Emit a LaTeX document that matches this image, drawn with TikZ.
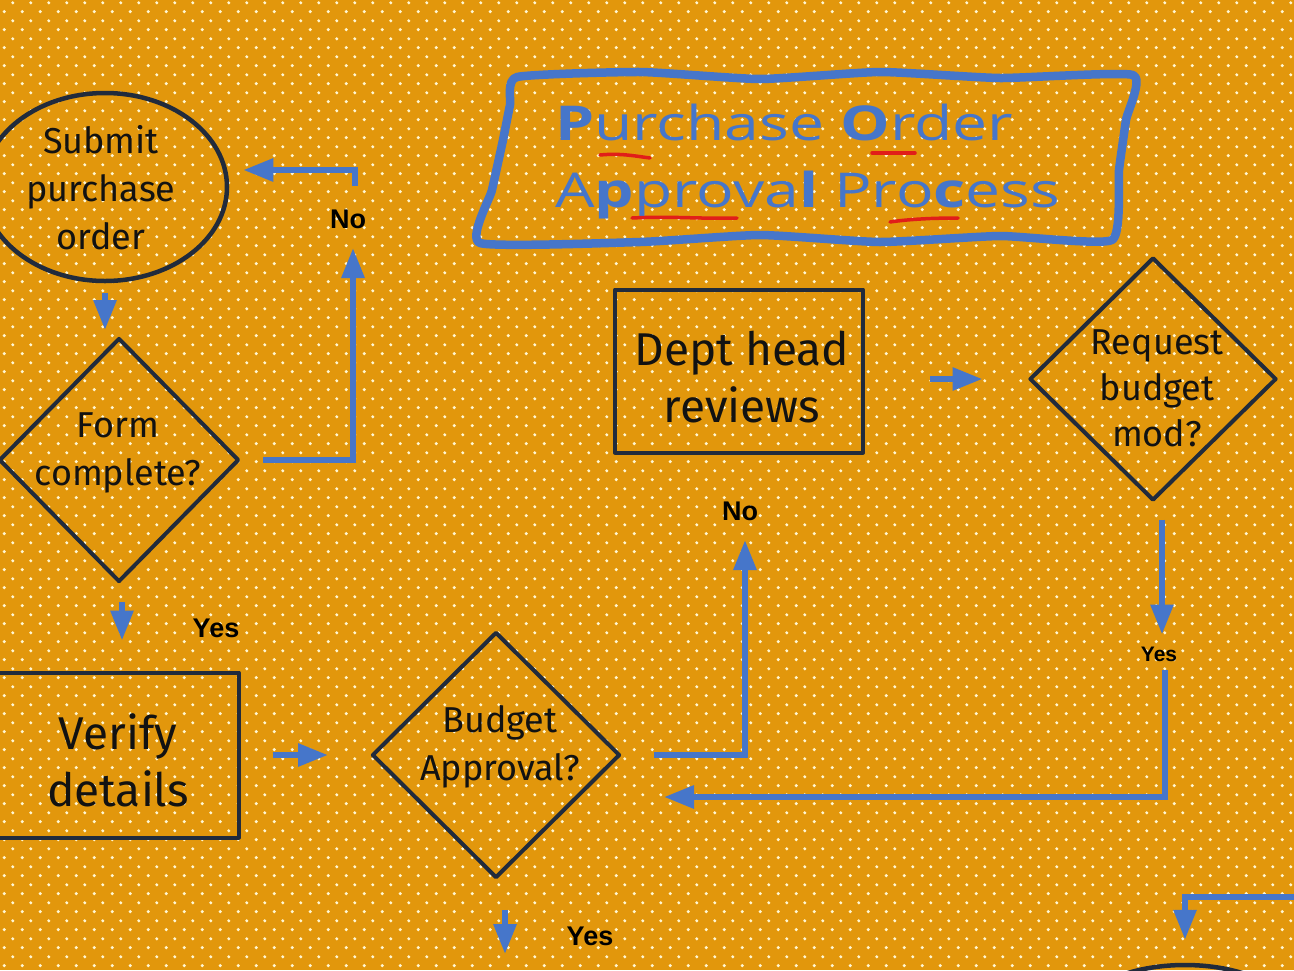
\documentclass[tikz,border=0pt]{standalone}
\usepackage{fontspec}
\setmainfont{Fira Sans}
\newfontfamily\titlefont[FakeStretch=1.3]{Open Sans}
\newfontfamily\labfont{Liberation Sans}
\usetikzlibrary{shapes.geometric,arrows.meta,patterns,calc}
\definecolor{bgor}{RGB}{226,151,12}
\definecolor{dotc}{RGB}{255,246,210}
\definecolor{ink}{RGB}{33,43,60}
\definecolor{txt}{RGB}{18,18,18}
\definecolor{flow}{RGB}{70,118,202}
\definecolor{uline}{RGB}{225,30,25}
\pgfdeclarepatternformonly{podots}{\pgfqpoint{0pt}{0pt}}{\pgfqpoint{17.5pt}{17.8pt}}{\pgfqpoint{17.5pt}{17.8pt}}{%
  \pgfpathcircle{\pgfqpoint{4.4pt}{4.45pt}}{1.75pt}%
  \pgfpathcircle{\pgfqpoint{13.15pt}{13.35pt}}{1.75pt}%
  \pgfusepath{fill}}
\begin{document}
\begin{tikzpicture}[x=1pt,y=-1pt,
  shapeline/.style={draw=ink, line width=4pt, line join=round},
  boxnode/.style={shapeline, rectangle, inner sep=0pt},
  dia/.style={shapeline, diamond, inner sep=0pt},
  midtxt/.style={font=\fontsize{36}{48}\selectfont, align=center, text=txt, inner sep=0pt},
  bigtxt/.style={font=\fontsize{46}{57}\selectfont, align=center, text=txt, inner sep=0pt},
  arr/.style={draw=flow, line width=6pt, -{Triangle[length=30pt,width=22pt]}},
  lab/.style={font=\labfont\bfseries\fontsize{27}{30}\selectfont, text=black, inner sep=0pt},
  smalllab/.style={font=\labfont\bfseries\fontsize{21}{24}\selectfont, text=black, inner sep=0pt},
  titletxt/.style={font=\titlefont\fontsize{48}{52}\selectfont, text=flow, inner sep=0pt},
  uln/.style={draw=uline, line width=3.5pt, line cap=round}]
\useasboundingbox (0,0) rectangle (1294,970);
\fill[bgor] (0,0) rectangle (1294,970);
\fill[pattern=podots, pattern color=dotc] (0,0) rectangle (1294,970);

% title
\draw[flow, line width=8.5pt, line join=round] plot[smooth cycle, tension=0.3] coordinates {(517,77) (640,72) (760,79) (880,72) (1000,78) (1133,75) (1126,120) (1119,170) (1112,240) (1000,236) (880,242) (760,235) (640,242) (480,243) (492,190) (503,140) (510,105)};
\node[titletxt, anchor=base west] (t1) at (555,140) {{\bfseries P}urchase {\bfseries O}rder};
\node[titletxt, anchor=base west] (t2) at (555,207) {A{\bfseries p}prova{\bfseries l} Pro{\bfseries c}ess};
\draw[uln] (600,155) .. controls (620,153) and (635,156) .. (650,158);
\draw[uln] (872,153) -- (915,153);
\draw[uln] (632,218) .. controls (670,216) and (700,219) .. (737,218);
\draw[uln] (890,222) .. controls (910,219) and (935,218) .. (958,218);

% shapes
\node[shapeline, ellipse, minimum width=244pt, minimum height=188pt, inner sep=0pt, line width=4.5pt] (submit) at (105,187) {};
\node[midtxt] (submitt) at (101,188) {Submit\\purchase\\order};

\node[dia, minimum width=240pt, minimum height=244pt] (form) at (119,460) {};
\node[midtxt] (formt) at (118,453) {Form\\complete?};

\node[boxnode, minimum width=243pt, minimum height=165pt] (verify) at (117,755) {};
\node[bigtxt] (verifyt) at (118,760) {Verify\\details};

\node[dia, minimum width=248pt, minimum height=246pt] (budget) at (496,755) {};
\node[midtxt] (budgett) at (500,747) {Budget\\Approval?};

\node[boxnode, minimum width=248pt, minimum height=163pt] (dept) at (739,371) {};
\node[bigtxt] (deptt) at (742,377) {Dept head\\reviews};

\node[dia, minimum width=247pt, minimum height=243pt] (req) at (1153,379) {};
\node[midtxt, font=\fontsize{36}{46}\selectfont] (reqt) at (1157,388) {Request\\budget\\mod?};

\node[shapeline, ellipse, minimum width=220pt, minimum height=110pt, line width=4.5pt] (next) at (1185,1020) {};

% coordinates for free ends
\coordinate (noA) at (353,248);
\coordinate (noB) at (355,186);
\coordinate (noC) at (745,540);
\coordinate (yesB) at (1165,670);
\coordinate (edge) at (1300,897);

% connectors
\draw[arr] ([yshift=-10pt]submit.south -| 105,0) -- ([yshift=6pt]form.north -| 105,0);
\draw[arr] ([xshift=22pt]form.east) -| (noA);
\draw[arr] (noB) |- ([xshift=14pt,yshift=17pt]submit.east);
\draw[arr] ([yshift=-18pt]form.south -| 122,0) -- ([yshift=30pt]verify.north -| 122,0);
\draw[arr] ([xshift=32pt]verify.east) -- ([xshift=-42pt]budget.west);
\draw[arr] ([xshift=32pt]budget.east) -| (noC);
\draw[arr] ([xshift=65pt]dept.east |- req.west) -- ([xshift=-45pt]req.west);
\draw[arr] ([xshift=9pt,yshift=-17pt]req.south) -- ([xshift=9pt,yshift=-132pt]req.south);
\draw[arr] (yesB) |- ([xshift=42pt,yshift=-42pt]budget.east);
\draw[arr] ([xshift=9pt,yshift=-30pt]budget.south) -- ([xshift=9pt,yshift=-74pt]budget.south);
\draw[arr] (edge) -| ([yshift=23pt]next.north);

% labels
\node[lab] (no1) at (348,219) {No};
\node[lab] (yes1) at (216,628) {Yes};
\node[lab] (no2) at (740,511) {No};
\node[smalllab] (yes2) at (1159,654) {Yes};
\node[lab] (yes3) at (590,936) {Yes};
\end{tikzpicture}
\end{document}
